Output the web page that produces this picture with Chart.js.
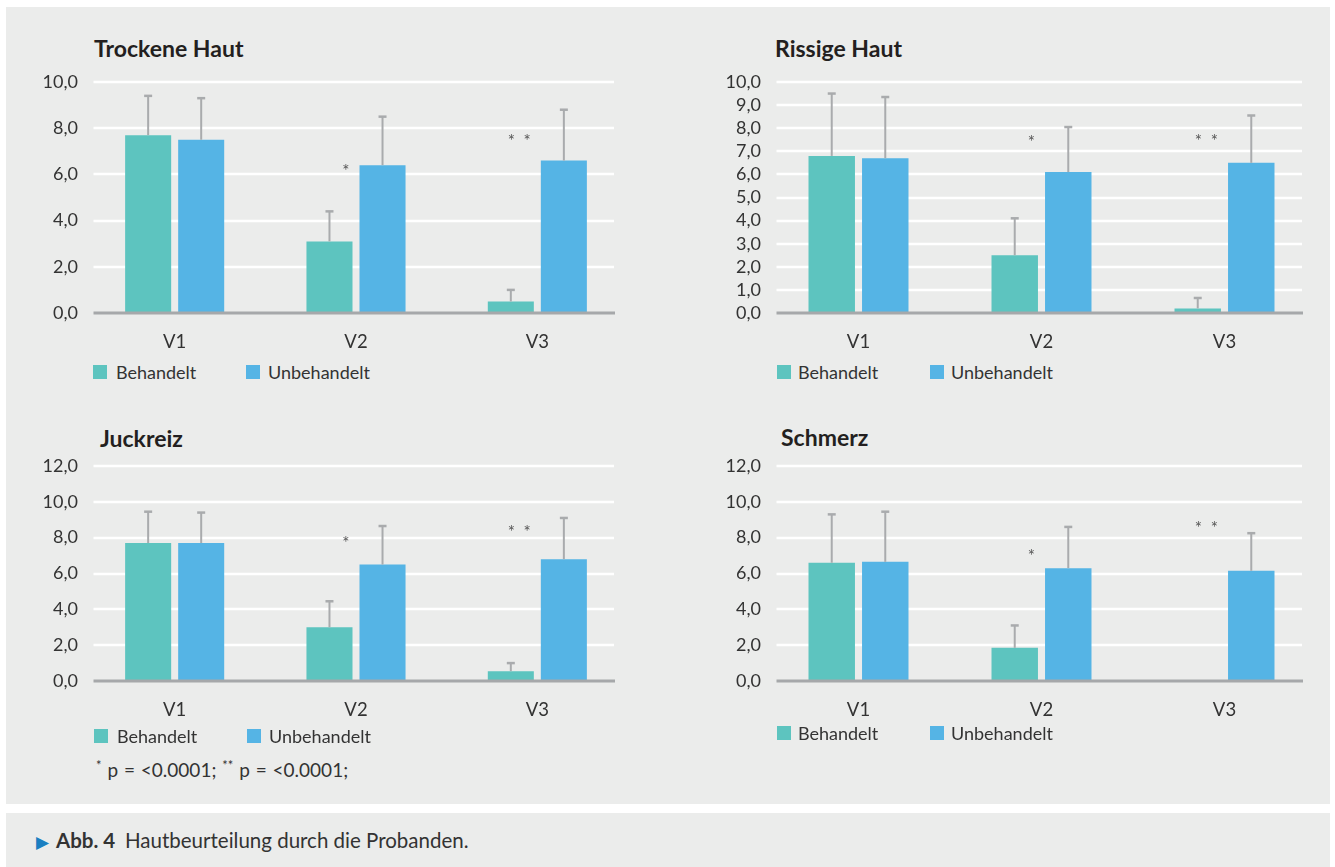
<!DOCTYPE HTML>
<html>

<head>
    <meta charset="UTF-8">
    <title>Hautbeurteilung durch die Probanden</title>
    <script src="https://cdn.jsdelivr.net/npm/chart.js"></script>
    <style>
        body { margin: 0; width: 1335px; height: 867px; background: #fff; position: relative; font-family: Lato, "Open Sans", sans-serif; color: #333; overflow: hidden; }
        .panel { position: absolute; left: 6px; top: 7px; width: 1324px; height: 797px; background: #ebeceb; }
        .caption { position: absolute; left: 6px; top: 813px; width: 1324px; height: 54px; background: #ebeceb; font-size: 20.5px; }
        .caption span { position: absolute; top: 15px; white-space: nowrap; }
        canvas { position: absolute; }
        .title { position: absolute; font-weight: bold; font-size: 23px; color: #231f20; line-height: 26px; white-space: nowrap; }
        .legend { position: absolute; font-size: 18px; line-height: 20px; white-space: nowrap; }
        .legend i { position: absolute; top: 3px; width: 14px; height: 14px; }
        .legend b { position: absolute; top: 0; font-weight: normal; }
        .note { position: absolute; font-size: 19px; line-height: 20px; white-space: nowrap; word-spacing: 1px; }
    </style>
</head>

<body>
    <div class="panel"></div>

    <div class="title" style="left:94px; top:35px">Trockene Haut</div>
    <div class="title" style="left:775px; top:35px">Rissige Haut</div>
    <div class="title" style="left:100px; top:425px">Juckreiz</div>
    <div class="title" style="left:781px; top:424px">Schmerz</div>

    <canvas id="c1" width="624" height="296" style="left:9px; top:62px"></canvas>
    <canvas id="c2" width="629" height="296" style="left:692px; top:62px"></canvas>
    <canvas id="c3" width="624" height="280" style="left:9px; top:446px"></canvas>
    <canvas id="c4" width="629" height="280" style="left:692px; top:446px"></canvas>

    <div class="legend" style="left:93px; top:362px"><i style="left:0; background:#5dc4bf"></i><b style="left:23px">Behandelt</b><i style="left:153px; background:#55b4e5"></i><b style="left:175px">Unbehandelt</b></div>
    <div class="legend" style="left:777px; top:362px"><i style="left:0; background:#5dc4bf"></i><b style="left:21px">Behandelt</b><i style="left:153px; background:#55b4e5"></i><b style="left:174px">Unbehandelt</b></div>
    <div class="legend" style="left:94px; top:726px"><i style="left:0; background:#5dc4bf"></i><b style="left:23px">Behandelt</b><i style="left:153px; background:#55b4e5"></i><b style="left:175px">Unbehandelt</b></div>
    <div class="legend" style="left:777px; top:723px"><i style="left:0; background:#5dc4bf"></i><b style="left:21px">Behandelt</b><i style="left:153px; background:#55b4e5"></i><b style="left:174px">Unbehandelt</b></div>
    <div class="note" style="left:96px; top:755px"><sup style="font-size:13px">*</sup> p = &lt;0.0001; <sup style="font-size:13px">**</sup> p = &lt;0.0001;</div>

    <div class="caption">
        <span style="left:30px; color:#1a7fc1; font-size:17px; top:18px">&#9654;</span>
        <span style="left:50px; font-weight:bold">Abb. 4</span>
        <span style="left:119px">Hautbeurteilung durch die Probanden.</span>
    </div>

    <script>
        const categories = ['V1', 'V2', 'V3'];
        const seriesNames = ['Behandelt', 'Unbehandelt'];
        const starLabels = ['', '*', '* *'];

        // Trockene Haut
        const trockeneBeh = [7.7, 3.1, 0.5];
        const trockeneUnb = [7.5, 6.4, 6.6];
        const trockeneBehSd = [1.7, 1.3, 0.5];
        const trockeneUnbSd = [1.8, 2.1, 2.2];
        const trockeneStars = [null, 6.3, 7.6];

        // Rissige Haut
        const rissigeBeh = [6.8, 2.5, 0.2];
        const rissigeUnb = [6.7, 6.1, 6.5];
        const rissigeBehSd = [2.7, 1.6, 0.45];
        const rissigeUnbSd = [2.65, 1.95, 2.05];
        const rissigeStars = [null, 7.55, 7.6];

        // Juckreiz
        const juckreizBeh = [7.7, 3.0, 0.55];
        const juckreizUnb = [7.7, 6.5, 6.8];
        const juckreizBehSd = [1.75, 1.45, 0.45];
        const juckreizUnbSd = [1.7, 2.15, 2.3];
        const juckreizStars = [null, 7.9, 8.5];

        // Schmerz
        const schmerzBeh = [6.6, 1.85, 0];
        const schmerzUnb = [6.65, 6.3, 6.15];
        const schmerzBehSd = [2.7, 1.25, 0];
        const schmerzUnbSd = [2.8, 2.3, 2.1];
        const schmerzStars = [null, 7.15, 8.75];

        // y axis: [max, step]
        const yAxisSmall = [10, 2];
        const yAxisFine = [10, 1];
        const yAxisLarge = [12, 2];

        const colors = ['#5dc4bf', '#55b4e5'];
        const fontFamily = 'Lato, "Open Sans", sans-serif';
        const gridInsetLeft = 9.5, gridInsetRight = 14;

        // white grid lines, narrower than the category area (like the Excel original)
        const gridPlugin = {
            id: 'insetGrid',
            beforeDatasetsDraw(chart) {
                const ctx = chart.ctx;
                const y = chart.scales.y;
                const area = chart.chartArea;
                ctx.save();
                ctx.strokeStyle = '#ffffff';
                ctx.lineWidth = 2.5;
                y.ticks.forEach(t => {
                    if (t.value === 0) return;
                    const py = Math.round(y.getPixelForValue(t.value));
                    ctx.beginPath();
                    ctx.moveTo(area.left + gridInsetLeft, py);
                    ctx.lineTo(area.right - gridInsetRight, py);
                    ctx.stroke();
                });
                ctx.restore();
            }
        };

        // error bars, asterisks and base line
        const extrasPlugin = {
            id: 'extras',
            afterDatasetsDraw(chart, args, opts) {
                const ctx = chart.ctx;
                const y = chart.scales.y;
                const area = chart.chartArea;
                ctx.save();
                ctx.strokeStyle = '#a9abad';
                opts.sd.forEach((sdArr, di) => {
                    const meta = chart.getDatasetMeta(di);
                    sdArr.forEach((sd, j) => {
                        if (!sd) return;
                        const bar = meta.data[j];
                        const v = chart.data.datasets[di].data[j];
                        const yTop = y.getPixelForValue(v + sd);
                        ctx.lineWidth = 2;
                        ctx.beginPath();
                        ctx.moveTo(bar.x, bar.y);
                        ctx.lineTo(bar.x, yTop);
                        ctx.stroke();
                        ctx.lineWidth = 2.5;
                        ctx.beginPath();
                        ctx.moveTo(bar.x - 4, yTop);
                        ctx.lineTo(bar.x + 4, yTop);
                        ctx.stroke();
                    });
                });
                // base line
                ctx.strokeStyle = '#a6a8aa';
                ctx.lineWidth = 3;
                ctx.beginPath();
                ctx.moveTo(area.left + gridInsetLeft, y.getPixelForValue(0));
                ctx.lineTo(area.right - gridInsetRight + 1, y.getPixelForValue(0));
                ctx.stroke();
                // asterisks
                ctx.fillStyle = '#555';
                ctx.font = '17px ' + fontFamily;
                ctx.textAlign = 'center';
                ctx.textBaseline = 'middle';
                const meta0 = chart.getDatasetMeta(0);
                opts.stars.forEach((v, j) => {
                    if (v === null) return;
                    const bar = meta0.data[j];
                    const right = bar.x + bar.width / 2;
                    const text = starLabels[j] === '* *' ? '*  *' : starLabels[j];
                    const w = ctx.measureText(text).width;
                    ctx.fillText(text, right - w / 2 - 3, y.getPixelForValue(v) + 4);
                });
                ctx.restore();
            }
        };

        function makeChart(id, beh, unb, behSd, unbSd, stars, yAxis) {
            return new Chart(document.getElementById(id), {
                type: 'bar',
                data: {
                    labels: categories,
                    datasets: [
                        { label: seriesNames[0], data: beh, backgroundColor: colors[0], barPercentage: 0.868, categoryPercentage: 0.585 },
                        { label: seriesNames[1], data: unb, backgroundColor: colors[1], barPercentage: 0.868, categoryPercentage: 0.585 }
                    ]
                },
                options: {
                    responsive: false,
                    animation: false,
                    layout: { padding: { top: 20, right: 5, bottom: 0, left: 0 } },
                    plugins: {
                        legend: { display: false },
                        tooltip: { enabled: false },
                        extras: { sd: [behSd, unbSd], stars: stars }
                    },
                    scales: {
                        x: {
                            grid: { display: false, drawTicks: false },
                            border: { display: false },
                            ticks: { color: '#333', padding: 18, font: { family: fontFamily, size: 18.5 } },
                            afterFit: s => { s.height = 45; }
                        },
                        y: {
                            min: 0,
                            max: yAxis[0],
                            ticks: {
                                stepSize: yAxis[1],
                                autoSkip: false,
                                color: '#333',
                                padding: 6,
                                font: { family: fontFamily, size: 18 },
                                callback: v => v.toFixed(1).replace('.', ',')
                            },
                            grid: { display: false, drawTicks: false },
                            border: { display: false },
                            afterFit: s => { s.width = 75; }
                        }
                    }
                },
                plugins: [gridPlugin, extrasPlugin]
            });
        }

        makeChart('c1', trockeneBeh, trockeneUnb, trockeneBehSd, trockeneUnbSd, trockeneStars, yAxisSmall);
        makeChart('c2', rissigeBeh, rissigeUnb, rissigeBehSd, rissigeUnbSd, rissigeStars, yAxisFine);
        makeChart('c3', juckreizBeh, juckreizUnb, juckreizBehSd, juckreizUnbSd, juckreizStars, yAxisLarge);
        makeChart('c4', schmerzBeh, schmerzUnb, schmerzBehSd, schmerzUnbSd, schmerzStars, yAxisLarge);
    </script>
</body>

</html>
